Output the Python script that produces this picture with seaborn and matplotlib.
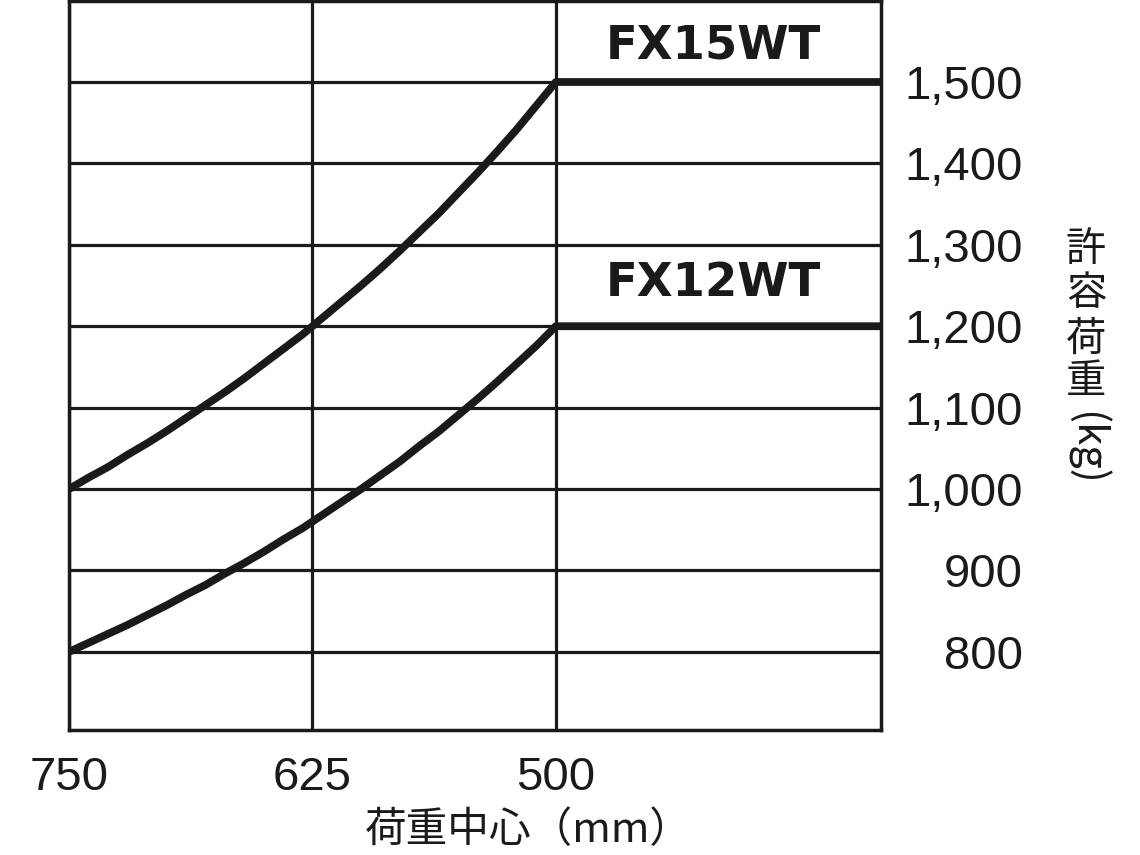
import matplotlib
matplotlib.use("Agg")
import matplotlib.pyplot as plt
import pandas as pd
import seaborn as sns

# load centre (mm); the last point is the flat part to the right edge
load_centre = [750, 740, 730, 720, 710, 700, 690, 680, 670, 660, 650, 640, 630, 625,
               620, 610, 600, 590, 580, 570, 560, 550, 540, 530, 520, 510, 500, 333]
fx15wt_load = [1000, 1014, 1027, 1042, 1056, 1071, 1087, 1103, 1119, 1136, 1154, 1172,
               1190, 1200, 1210, 1230, 1250, 1271, 1293, 1316, 1339, 1364, 1389, 1415,
               1442, 1471, 1500, 1500]
fx12wt_load = [800, 811, 822, 833, 845, 857, 870, 882, 896, 909, 923, 938, 952, 960,
               968, 984, 1000, 1017, 1034, 1053, 1071, 1091, 1111, 1132, 1154, 1176,
               1200, 1200]

models = ["FX15WT", "FX12WT"]
label_pos = [(419, 1544), (419, 1252)]

x_ticks = [750, 625, 500]
y_ticks = [800, 900, 1000, 1100, 1200, 1300, 1400, 1500]

LINE_COLOR = "#1a1a1a"

data = pd.concat(
    [
        pd.DataFrame({"centre": load_centre, "load": fx15wt_load, "model": models[0]}),
        pd.DataFrame({"centre": load_centre, "load": fx12wt_load, "model": models[1]}),
    ],
    ignore_index=True,
)

sns.set_style("white")
plt.rcParams["font.family"] = ["Liberation Sans", "Noto Sans CJK JP", "DejaVu Sans"]

fig = plt.figure(figsize=(11.4, 8.55), dpi=100)
ax = fig.add_axes([69 / 1140, 125 / 855, 812 / 1140, 729.4 / 855])

sns.lineplot(
    data=data,
    x="centre",
    y="load",
    hue="model",
    palette={m: LINE_COLOR for m in models},
    linewidth=5.6,
    legend=False,
    sort=False,
    ax=ax,
    zorder=3,
)
for line in ax.get_lines():
    line.set_solid_joinstyle("round")

ax.set_xlim(750, 333)
ax.set_ylim(704, 1600)
ax.set_xticks(x_ticks)
ax.set_yticks(y_ticks)
ax.set_xticklabels([str(v) for v in x_ticks])
ax.set_yticklabels([f"{v:,}" for v in y_ticks])
ax.grid(True, color=LINE_COLOR, linewidth=2.3)
ax.set_axisbelow(True)
for spine in ax.spines.values():
    spine.set_color(LINE_COLOR)
    spine.set_linewidth(2.5)

ax.yaxis.tick_right()
ax.tick_params(axis="both", length=0, labelsize=34, colors="#1a1a1a")
ax.tick_params(axis="x", pad=19)
ax.tick_params(axis="y", pad=102)
for lbl in ax.get_yticklabels():
    lbl.set_horizontalalignment("right")

ax.set_xlabel("")
ax.set_ylabel("")

for name, (lx, ly) in zip(models, label_pos):
    ax.text(lx, ly, name, ha="center", va="center", fontsize=33.5,
            fontweight="bold", family=["DejaVu Sans"], color=LINE_COLOR)

# x axis title
fig.text(528 / 1140, 1 - 830 / 855, "荷重中心（mm）", ha="center", va="center",
         fontsize=30, family=["Noto Sans CJK JP"], color=LINE_COLOR)

# vertical y axis title: stacked characters, then the unit turned sideways
for ch, yc in zip("許容荷重", [249, 294, 339, 381]):
    fig.text(1086 / 1140, 1 - yc / 855, ch, ha="center", va="center",
             fontsize=29, family=["Noto Sans CJK JP"], color=LINE_COLOR)
fig.text(1086 / 1140, 1 - 448 / 855, "(kg)", ha="center", va="center", rotation=-90,
         rotation_mode="anchor", fontsize=30, family=["Noto Sans CJK JP"], color=LINE_COLOR)

fig.savefig("out.png", dpi=100)
